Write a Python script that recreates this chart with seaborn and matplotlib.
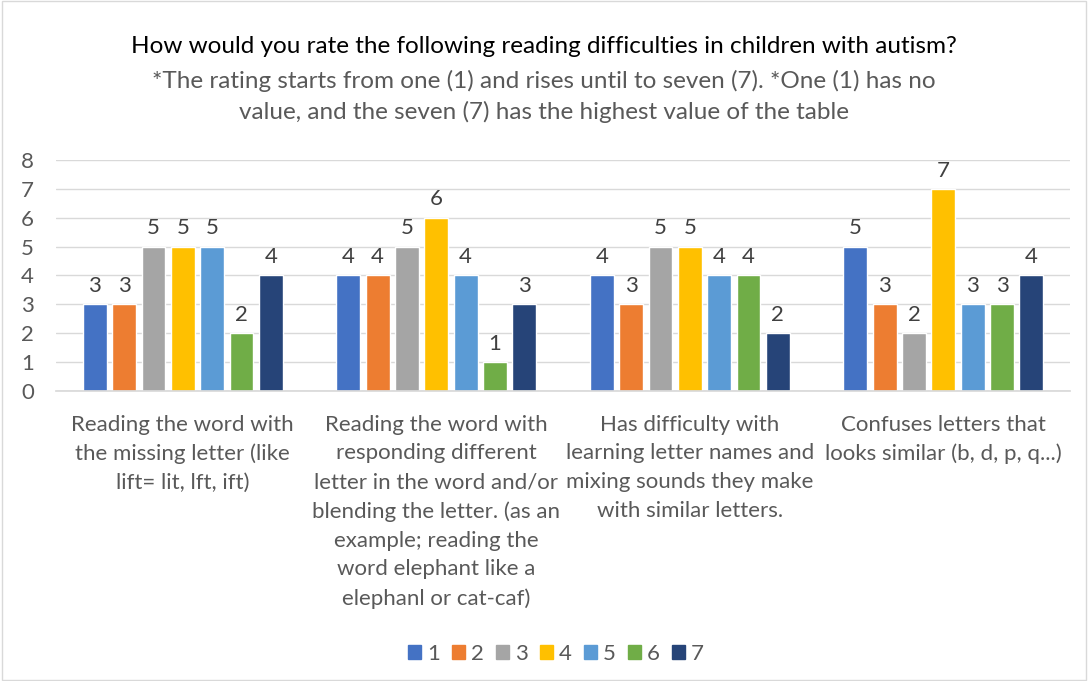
import matplotlib.pyplot as plt
import matplotlib.patches as mpatches
import pandas as pd
import seaborn as sns

categories = [
    "Reading the word with\nthe missing letter (like\nlift= lit, lft, ift)",
    "Reading the word with\nresponding different\nletter in the word and/or\nblending the letter. (as an\nexample; reading the\nword elephant like a\nelephanl or cat-caf)",
    "Has difficulty with\nlearning letter names and\nmixing sounds they make\nwith similar letters.",
    "Confuses letters that\nlooks similar (b, d, p, q...)",
]
ratings = ["1", "2", "3", "4", "5", "6", "7"]
values = {
    "1": [3, 4, 4, 5],
    "2": [3, 4, 3, 3],
    "3": [5, 5, 5, 2],
    "4": [5, 6, 5, 7],
    "5": [5, 4, 4, 3],
    "6": [2, 1, 4, 3],
    "7": [4, 3, 2, 4],
}
colors = ["#4472C4", "#ED7D31", "#A5A5A5", "#FFC000", "#5B9BD5", "#70AD47", "#264478"]

title = "How would you rate the following reading difficulties in children with autism?"
subtitle = ("*The rating starts from one (1) and rises until to seven (7). *One (1) has no\n"
            "value, and the seven (7) has the highest value of the table")

rows = []
for r in ratings:
    for c, v in zip(categories, values[r]):
        rows.append({"Category": c, "Rating": r, "Value": v})
df = pd.DataFrame(rows)

sns.set_theme(style="white")
plt.rcParams['font.family'] = ['Lato', 'DejaVu Sans']

fig = plt.figure(figsize=(10.88, 6.81), dpi=100)
ax = fig.add_axes([0.0515, 0.426, 0.932, 0.339])

sns.barplot(data=df, x="Category", y="Value", hue="Rating", hue_order=ratings,
            palette=colors, saturation=1, width=0.81, gap=0.19, ax=ax, legend=False)

for cont in ax.containers:
    ax.bar_label(cont, padding=6, fontsize=16, color="#404040")

ax.set_ylim(0, 8)
ax.set_yticks(range(0, 9))
ax.set_xlim(-0.5, 3.5)
ax.grid(axis="y", color="#D9D9D9", linewidth=1)
ax.set_axisbelow(True)
for s in ["top", "right", "left"]:
    ax.spines[s].set_visible(False)
ax.spines["bottom"].set_color("#D9D9D9")
ax.set_xlabel("")
ax.set_ylabel("")
ax.tick_params(axis="y", labelsize=16, labelcolor="#595959", length=0, pad=16)
ax.tick_params(axis="x", labelsize=16, labelcolor="#595959", length=0, pad=17)
for lbl in ax.get_xticklabels():
    lbl.set_linespacing(1.55)

fig.text(0.5, 0.931, title, ha="center", va="center", fontsize=17.5, color="#000000")
fig.text(0.5, 0.858, subtitle, ha="center", va="center", fontsize=17.5, color="#595959",
         linespacing=1.5)

handles = [mpatches.Patch(color=c, label=r) for r, c in zip(ratings, colors)]
fig.legend(handles=handles, loc="center", bbox_to_anchor=(0.511, 0.04), ncol=7,
           frameon=False, fontsize=16, handlelength=0.6, handleheight=0.6,
           handletextpad=0.25, columnspacing=0.55, labelcolor="#595959")

fig.patches.append(mpatches.Rectangle((0.002, 0.002), 0.996, 0.996, transform=fig.transFigure,
                                      fill=False, edgecolor="#D9D9D9", linewidth=1))

fig.savefig("out.png", dpi=100)
